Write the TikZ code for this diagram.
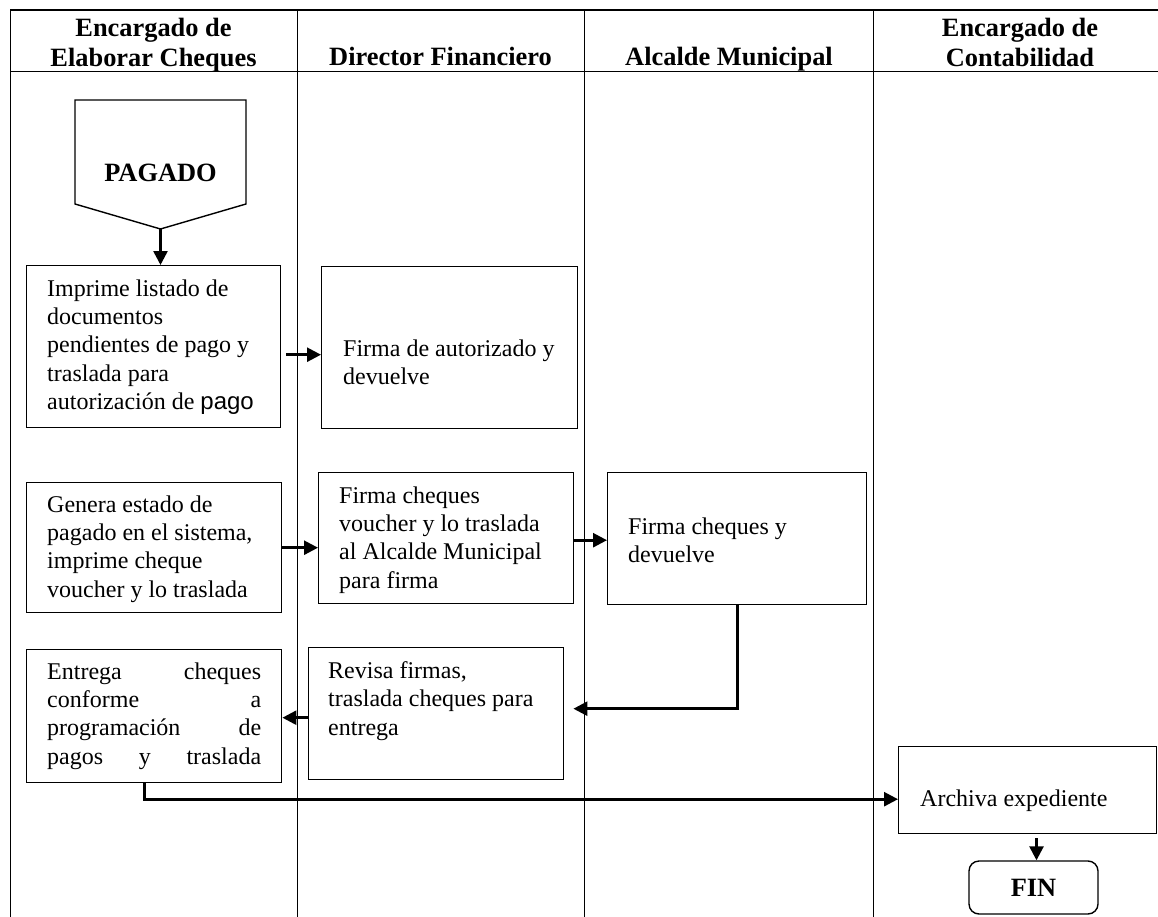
\documentclass[tikz,border=0pt]{standalone}
\usepackage{fontspec}
\setmainfont{Liberation Serif}
\setsansfont{Liberation Sans}
\usetikzlibrary{arrows.meta,calc}

\begin{document}
\begin{tikzpicture}[x=1pt,y=-1pt,
  lane/.style={line width=1pt},
  head/.style={font=\fontsize{26.4}{30}\selectfont\bfseries, align=center, inner sep=0pt},
  box/.style={draw, line width=1.4pt, rectangle, inner sep=0pt, anchor=north west},
  txt/.style={anchor=west, align=left, inner sep=0pt, font=\fontsize{24}{28.3}\selectfont},
  arr/.style={line width=2.6pt, -{Triangle[length=14pt,width=14pt]}},
]
\useasboundingbox (0,0) rectangle (1158,917);

% swimlane grid
\draw[line width=1.3pt] (10,10) -- (1158,10);
\draw[lane] (10,72) -- (1158,72);
\draw[lane] (10,10) -- (10,917);
\draw[lane] (297,10) -- (297,917);
\draw[lane] (584,10) -- (584,917);
\draw[lane] (873,10) -- (873,917);

% lane titles
\node[head] (h1) at (153.5,45) {Encargado de\\Elaborar Cheques};
\node[head, anchor=base] (h2) at (440.5,66) {Director Financiero};
\node[head, anchor=base] (h3) at (729,66) {Alcalde Municipal};
\node[head] (h4) at (1020,42) {Encargado de\\Contabilidad};

% off-page connector
\draw[line width=1.4pt] (75,100) -- (246,100) -- (246,204) -- (160.5,229) -- (75,204) -- cycle;
\coordinate (pagtip) at (160.5,229);
\node[head] (pag) at (160.5,173) {PAGADO};

% process boxes
\node[box, minimum width=254, minimum height=162] (b1) at (26,265) {};
\node[box, minimum width=256, minimum height=162] (b2) at (321,266) {};
\node[box, minimum width=255, minimum height=130] (b3) at (26,482) {};
\node[box, minimum width=255, minimum height=131] (b4) at (318,472) {};
\node[box, minimum width=259, minimum height=132] (b5) at (607,472) {};
\node[box, minimum width=255, minimum height=133] (b6) at (26,649) {};
\node[box, minimum width=255, minimum height=132] (b7) at (308,647) {};
\node[box, minimum width=258, minimum height=87] (b8) at (898,746) {};
\node[draw, line width=1.4pt, rounded corners=10pt, minimum width=129, minimum height=53, head] (fin) at (1033.5,887.5) {FIN};

% box texts
\node[txt] (t1) at (47,347) {Imprime listado de\\documentos\\pendientes de pago y\\traslada para\\autorización de {\sffamily pago}};
\node[txt] (t2) at (343,362) {Firma de autorizado y\\devuelve};
\node[txt] (t3) at (47,549) {Genera estado de\\pagado en el sistema,\\imprime cheque\\voucher y lo traslada};
\node[txt] (t4) at (339,540) {Firma cheques\\voucher y lo traslada\\al Alcalde Municipal\\para firma};
\node[txt] (t5) at (628,540) {Firma cheques y\\devuelve};
\node[txt] (t6) at (47,716) {\makebox[214pt][s]{Entrega cheques}\\\makebox[214pt][s]{conforme a}\\\makebox[214pt][s]{programación de}\\\makebox[214pt][s]{pagos y traslada}};
\node[txt] (t7) at (328,701) {Revisa firmas,\\traslada cheques para\\entrega};
\node[txt] (t8) at (920,801) {Archiva expediente};

% flow
\draw[arr] (pagtip) -- (pagtip |- b1.north);
\draw[arr] ([shift={(5,8)}]b1.east) -- ([shift={(0,7)}]b2.west);
\draw[arr] (b3.east) -- (b3.east -| b4.west);
\draw[arr] ([shift={(0,2)}]b4.east) -- ([shift={(0,2)}]b4.east -| b5.west);
\draw[arr] (b5.south) |- ([shift={(9,-5)}]b7.east);
\draw[arr] ([shift={(0,4)}]b7.west) -- ([shift={(0,4)}]b7.west -| b6.east);
\draw[arr] ([xshift=-10pt]b6.south) |- ([shift={(0,9)}]b8.west);
\draw[arr] ($(b8.south -| fin.north)+(3,4)$) -- ([xshift=3pt]fin.north);
\end{tikzpicture}
\end{document}
